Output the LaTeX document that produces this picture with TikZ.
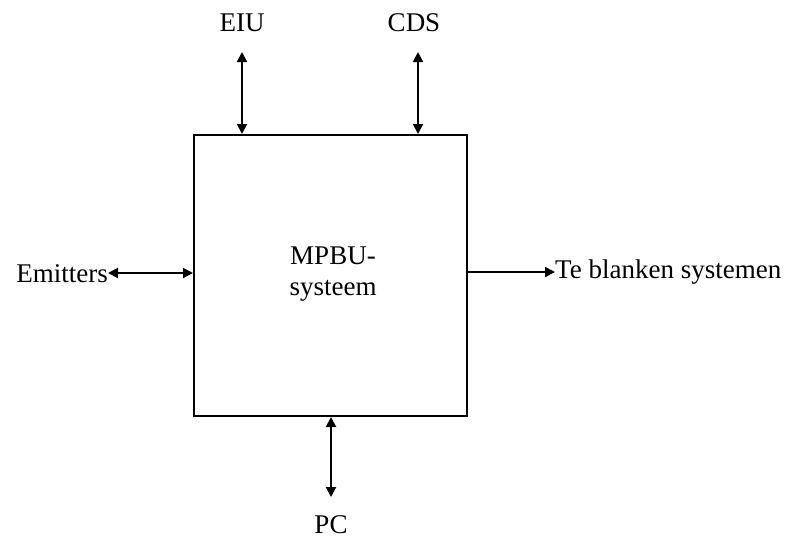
\documentclass[tikz,border=0pt]{standalone}
\usepackage{fontspec}
\setmainfont{Liberation Serif}
\usetikzlibrary{arrows.meta}
\begin{document}
\begin{tikzpicture}[x=1pt,y=-1pt,
  lbl/.style={font=\fontsize{27}{31}\selectfont, inner sep=0pt},
  conn/.style={line width=2pt, {Triangle[length=10pt,width=10pt]}-{Triangle[length=10pt,width=10pt]}},
  oneway/.style={line width=2pt, -{Triangle[length=10pt,width=10pt]}}]
\useasboundingbox (0,0) rectangle (791,542);
\node[draw, line width=2pt, minimum width=273pt, minimum height=281pt, inner sep=0pt, anchor=north west] (box) at (193,134) {};
\node[lbl, align=center] (mpbu) at (333,274) {MPBU-\\systeem};
\node[lbl] (eiu) at (242,23) {EIU};
\node[lbl] (cds) at (414,23) {CDS};
\node[lbl, anchor=east] (emit) at (108,274) {Emitters};
\node[lbl, anchor=west] (te) at (555,272) {Te blanken systemen};
\node[lbl] (pc) at (331,525) {PC};
\coordinate (eiuT) at (242,52);
\coordinate (cdsT) at (418,52);
\coordinate (pcB) at (331,497);
\draw[conn] (eiuT) -- (eiuT |- box.north);
\draw[conn] (cdsT) -- (cdsT |- box.north);
\draw[conn] (emit.east |- 0,273) -- (box.west |- 0,273);
\draw[oneway] (box.east |- 0,272) -- (te.west);
\draw[conn] (pcB |- box.south) -- (pcB);
\end{tikzpicture}
\end{document}
